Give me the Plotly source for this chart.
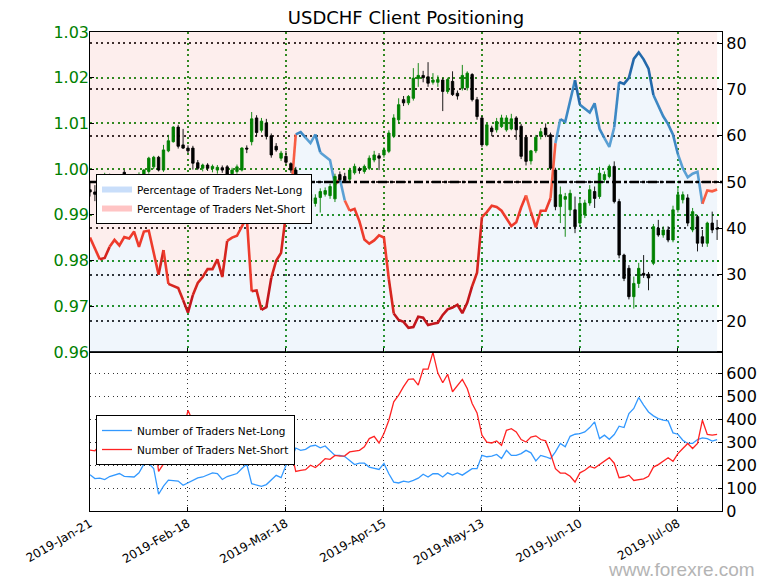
import plotly.graph_objects as go

# ---------------- data ----------------
tick_labels = ["2019-Jan-21", "2019-Feb-18", "2019-Mar-18", "2019-Apr-15",
               "2019-May-13", "2019-Jun-10", "2019-Jul-08"]
tick_index = [0, 20, 40, 60, 80, 100, 120]

opens = [0.9955, 0.9950, 0.9945, 0.9965, 0.9985, 0.9945, 0.9925, 0.9993, 0.9965, 0.9960,
         0.9975, 0.9980, 0.9995, 1.0005, 1.0026, 0.9998, 1.0040, 1.0060, 1.0092, 1.0053,
         1.0046, 1.0046, 1.0014, 1.0002, 1.0009, 1.0001, 0.9998, 1.0003, 1.0005, 0.9990,
         0.9995, 0.9998, 1.0046, 1.0060, 1.0112, 1.0085, 1.0101, 1.0073, 1.0050, 1.0024,
         1.0028, 1.0012, 0.9998, 0.9935, 0.9945, 0.9930, 0.9925, 0.9938, 0.9945, 0.9942,
         0.9935, 0.9988, 0.9984, 0.9978, 0.9992, 1.0001, 0.9995, 1.0002, 1.0020, 1.0029,
         1.0031, 1.0039, 1.0072, 1.0108, 1.0152, 1.0145, 1.0155, 1.0198, 1.0205, 1.0202,
         1.0190, 1.0190, 1.0195, 1.0170, 1.0192, 1.0166, 1.0177, 1.0178, 1.0207, 1.0152,
         1.0112, 1.0053, 1.0090, 1.0086, 1.0093, 1.0086, 1.0088, 1.0112, 1.0094, 1.0070,
         1.0018, 1.0040, 1.0072, 1.0090, 1.0075, 0.9998, 0.9918, 0.9934, 0.9911, 0.9911,
         0.9882, 0.9900, 0.9926, 0.9951, 0.9940, 0.9977, 0.9984, 1.0006, 0.9929, 0.9812,
         0.9783, 0.9721, 0.9750, 0.9772, 0.9770, 0.9794, 0.9871, 0.9856, 0.9867, 0.9845,
         0.9911, 0.9933, 0.9937, 0.9867, 0.9896, 0.9852, 0.9838, 0.9882, 0.9871]
highs = [0.9970, 0.9965, 0.9975, 0.9992, 0.9990, 0.9950, 0.9962, 0.9998, 0.9975, 0.9985,
         0.9993, 1.0000, 1.0027, 1.0029, 1.0029, 1.0053, 1.0075, 1.0094, 1.0097, 1.0088,
         1.0052, 1.0051, 1.0020, 1.0012, 1.0013, 1.0010, 1.0009, 1.0008, 1.0009, 1.0003,
         1.0010, 1.0048, 1.0052, 1.0125, 1.0118, 1.0112, 1.0110, 1.0078, 1.0057, 1.0040,
         1.0040, 1.0015, 1.0005, 0.9955, 0.9960, 0.9955, 0.9945, 0.9958, 0.9960, 0.9968,
         0.9990, 0.9995, 0.9992, 1.0003, 1.0012, 1.0005, 1.0010, 1.0030, 1.0040, 1.0035,
         1.0048, 1.0085, 1.0120, 1.0155, 1.0160, 1.0162, 1.0221, 1.0232, 1.0215, 1.0234,
         1.0210, 1.0205, 1.0199, 1.0200, 1.0214, 1.0172, 1.0228, 1.0214, 1.0210, 1.0158,
         1.0116, 1.0100, 1.0095, 1.0112, 1.0119, 1.0118, 1.0121, 1.0116, 1.0099, 1.0075,
         1.0042, 1.0075, 1.0090, 1.0100, 1.0080, 1.0003, 0.9962, 0.9948, 0.9955, 0.9940,
         0.9935, 0.9933, 0.9965, 0.9962, 1.0005, 0.9995, 1.0010, 1.0017, 0.9935, 0.9815,
         0.9790, 0.9765, 0.9795, 0.9812, 0.9775, 0.9880, 0.9889, 0.9875, 0.9875, 0.9920,
         0.9960, 0.9951, 0.9945, 0.9915, 0.9900, 0.9867, 0.9885, 0.9907, 0.9889]
lows = [0.9940, 0.9930, 0.9935, 0.9955, 0.9930, 0.9915, 0.9905, 0.9955, 0.9945, 0.9950,
        0.9960, 0.9975, 0.9990, 1.0000, 0.9995, 0.9994, 1.0037, 1.0058, 1.0045, 1.0044,
        1.0035, 0.9999, 0.9998, 0.9995, 0.9996, 0.9993, 0.9990, 0.9992, 0.9985, 0.9982,
        0.9990, 0.9995, 1.0035, 1.0052, 1.0072, 1.0080, 1.0065, 1.0025, 1.0038, 1.0018,
        1.0010, 0.9992, 0.9920, 0.9925, 0.9920, 0.9915, 0.9918, 0.9905, 0.9940, 0.9935,
        0.9928, 0.9972, 0.9970, 0.9972, 0.9988, 0.9990, 0.9990, 0.9998, 1.0015, 0.9998,
        1.0025, 1.0035, 1.0068, 1.0100, 1.0138, 1.0140, 1.0150, 1.0180, 1.0190, 1.0180,
        1.0185, 1.0180, 1.0127, 1.0165, 1.0160, 1.0152, 1.0172, 1.0172, 1.0148, 1.0108,
        1.0048, 1.0050, 1.0072, 1.0080, 1.0090, 1.0082, 1.0085, 1.0064, 1.0022, 1.0008,
        1.0010, 1.0035, 1.0065, 1.0070, 0.9998, 0.9910, 0.9882, 0.9852, 0.9900, 0.9860,
        0.9875, 0.9893, 0.9920, 0.9915, 0.9935, 0.9970, 0.9980, 0.9925, 0.9805, 0.9755,
        0.9715, 0.9695, 0.9740, 0.9762, 0.9735, 0.9790, 0.9852, 0.9850, 0.9840, 0.9840,
        0.9905, 0.9925, 0.9875, 0.9862, 0.9820, 0.9830, 0.9830, 0.9860, 0.9845]
closes = [0.9950, 0.9945, 0.9965, 0.9985, 0.9945, 0.9925, 0.9960, 0.9965, 0.9960, 0.9975,
          0.9985, 0.9998, 1.0024, 1.0026, 0.9998, 1.0042, 1.0062, 1.0092, 1.0050, 1.0046,
          1.0040, 1.0013, 1.0002, 1.0009, 1.0002, 1.0006, 1.0004, 0.9998, 0.9989, 0.9998,
          1.0005, 1.0046, 1.0044, 1.0110, 1.0080, 1.0105, 1.0072, 1.0031, 1.0042, 1.0035,
          1.0015, 0.9998, 0.9935, 0.9945, 0.9930, 0.9945, 0.9937, 0.9951, 0.9953, 0.9962,
          0.9984, 0.9977, 0.9975, 0.9998, 1.0006, 0.9997, 1.0006, 1.0024, 1.0031, 1.0024,
          1.0042, 1.0079, 1.0112, 1.0141, 1.0145, 1.0159, 1.0199, 1.0205, 1.0200, 1.0188,
          1.0195, 1.0196, 1.0170, 1.0196, 1.0163, 1.0160, 1.0205, 1.0210, 1.0152, 1.0115,
          1.0053, 1.0097, 1.0082, 1.0104, 1.0112, 1.0112, 1.0110, 1.0086, 1.0028, 1.0017,
          1.0040, 1.0070, 1.0082, 1.0075, 1.0002, 0.9918, 0.9944, 0.9940, 0.9947, 0.9874,
          0.9925, 0.9926, 0.9955, 0.9936, 0.9991, 0.9988, 1.0006, 0.9929, 0.9812, 0.9761,
          0.9721, 0.9750, 0.9783, 0.9768, 0.9762, 0.9874, 0.9856, 0.9867, 0.9845, 0.9911,
          0.9944, 0.9944, 0.9882, 0.9907, 0.9838, 0.9838, 0.9882, 0.9867, 0.9869]

pct_long = [38.0, 35.5, 33.3, 33.6, 36.0, 37.5, 36.3, 38.1, 37.8, 39.3,
            36.0, 39.3, 39.5, 35.0, 30.0, 35.3, 28.0, 27.5, 27.1, 24.5,
            21.8, 25.6, 28.2, 29.5, 31.2, 31.2, 33.3, 29.5, 37.3, 38.0,
            38.4, 40.5, 42.4, 26.4, 26.6, 22.4, 23.0, 29.3, 33.0, 34.7,
            43.1, 47.0, 60.3, 60.8, 59.6, 58.4, 60.3, 56.4, 55.5, 54.7,
            49.4, 50.7, 46.0, 43.8, 44.2, 41.5, 37.6, 36.7, 37.4, 38.5,
            38.0, 29.0, 21.6, 20.2, 19.8, 18.5, 18.7, 20.9, 20.7, 19.1,
            19.4, 19.6, 21.3, 22.5, 22.9, 23.5, 21.7, 23.9, 27.5, 30.4,
            42.4, 43.5, 44.9, 44.6, 43.8, 42.0, 40.5, 41.3, 44.5, 47.1,
            43.5, 40.2, 43.8, 43.8, 46.5, 58.4, 63.6, 63.0, 67.5, 72.0,
            66.7, 65.8, 65.0, 67.0, 61.5, 59.5, 57.6, 61.8, 71.6, 71.2,
            72.5, 76.6, 78.0, 76.5, 74.5, 68.8, 66.5, 64.2, 62.5, 60.2,
            56.0, 53.0, 51.0, 51.8, 52.2, 45.3, 48.2, 48.0, 48.4]

n_long = [158, 141, 143, 137, 150, 158, 163, 151, 151, 148,
          166, 204, 207, 185, 73, 108, 134, 132, 130, 112,
          122, 134, 144, 148, 156, 166, 163, 137, 150, 156,
          163, 185, 204, 119, 112, 107, 115, 135, 155, 145,
          199, 220, 274, 264, 268, 282, 286, 275, 283, 262,
          242, 242, 237, 220, 202, 208, 208, 191, 187, 181,
          207, 162, 126, 122, 130, 126, 133, 143, 160, 148,
          162, 162, 148, 166, 156, 166, 156, 171, 184, 184,
          242, 236, 239, 246, 228, 264, 242, 242, 250, 264,
          253, 218, 242, 236, 228, 257, 294, 279, 325, 334,
          337, 344, 363, 388, 315, 330, 312, 333, 369, 363,
          424, 446, 494, 461, 431, 414, 402, 395, 392, 340,
          334, 308, 294, 294, 311, 318, 315, 304, 311]

n_short = [265, 262, 285, 262, 278, 265, 285, 250, 248, 232,
           290, 315, 317, 344, 172, 205, 345, 343, 350, 345,
           438, 389, 367, 354, 344, 366, 326, 327, 256, 264,
           268, 272, 277, 332, 305, 371, 385, 330, 300, 320,
           282, 264, 172, 177, 180, 199, 189, 207, 228, 225,
           242, 239, 240, 257, 262, 264, 279, 315, 325, 296,
           337, 395, 475, 504, 541, 573, 575, 548, 617, 617,
           690, 600, 558, 595, 519, 548, 573, 533, 468, 427,
           330, 300, 296, 305, 286, 351, 358, 344, 311, 300,
           322, 327, 311, 305, 250, 184, 165, 165, 151, 126,
           166, 177, 194, 187, 202, 220, 232, 208, 145, 148,
           156, 133, 136, 140, 151, 191, 202, 218, 232, 216,
           250, 272, 294, 272, 294, 395, 333, 330, 333]

idx = list(range(len(closes)))
FONT = "DejaVu Sans"
GREEN = "#008000"
DOTS = "2px,3.5px"
FINE_DOTS = "1px,3.5px"

fig = go.Figure()

# background fills (net-long below line, net-short above line)
fig.add_trace(go.Scatter(x=idx, y=pct_long, mode="none", fill="tozeroy",
                         fillcolor="rgba(180,210,238,0.20)", showlegend=False,
                         hoverinfo="skip", xaxis="x2", yaxis="y"))
fig.add_trace(go.Scatter(x=idx, y=[100] * len(idx), mode="none", fill="tonexty",
                         fillcolor="rgba(246,170,165,0.20)", showlegend=False,
                         hoverinfo="skip", xaxis="x2", yaxis="y"))


def seg_color(v):
    if v < 25:
        return "#c3161c"
    if v < 35:
        return "#d6251f"
    if v < 45:
        return "#ee3b2c"
    if v < 50:
        return "#f85d44"
    if v < 60:
        return "#5aa0d4"
    if v < 70:
        return "#3d88c4"
    return "#2369ab"


# percentage line, coloured segment by segment
start = 0
cur = seg_color(pct_long[0])
for k in range(1, len(idx)):
    c = seg_color(pct_long[k]) if k < len(idx) - 1 else None
    if c != cur:
        fig.add_trace(go.Scatter(x=idx[start:k + 1], y=pct_long[start:k + 1],
                                 mode="lines", line=dict(color=cur, width=2.6),
                                 showlegend=False, hoverinfo="skip",
                                 xaxis="x2", yaxis="y"))
        start = k
        cur = c

# candlesticks on the price axis
fig.add_trace(go.Candlestick(
    x=idx, open=opens, high=highs, low=lows, close=closes,
    increasing=dict(line=dict(color=GREEN, width=0.9), fillcolor=GREEN),
    decreasing=dict(line=dict(color="black", width=0.9), fillcolor="black"),
    whiskerwidth=0, showlegend=False, xaxis="x2", yaxis="y2"))

# legend patches for the top panel
fig.add_trace(go.Scatter(x=[None], y=[None], mode="none", fill="toself",
                         fillcolor="#c9defa", name="Percentage of Traders Net-Long",
                         legend="legend", legendrank=1, xaxis="x2", yaxis="y"))
fig.add_trace(go.Scatter(x=[None], y=[None], mode="none", fill="toself",
                         fillcolor="#ffc4c4", name="Percentage of Traders Net-Short",
                         legend="legend", legendrank=2, xaxis="x2", yaxis="y"))

# bottom panel: trader counts
fig.add_trace(go.Scatter(x=idx, y=n_long, mode="lines",
                         line=dict(color="#3399ff", width=1.3),
                         name="Number of Traders Net-Long", legend="legend2",
                         legendrank=1, xaxis="x", yaxis="y3"))
fig.add_trace(go.Scatter(x=idx, y=n_short, mode="lines",
                         line=dict(color="#ff2222", width=1.3),
                         name="Number of Traders Net-Short", legend="legend2",
                         legendrank=2, xaxis="x", yaxis="y3"))

split = 0.332
axis_common = dict(showline=True, mirror=True, linecolor="black", linewidth=1.2,
                   zeroline=False, ticks="inside", ticklen=4, tickcolor="black",
                   automargin=False)

# the page body adds an 8 px offset, so the figure is 8 px smaller than the window
fig.update_layout(
    width=759, height=577,
    margin=dict(l=82, r=45, t=24, b=74, autoexpand=False),
    paper_bgcolor="white", plot_bgcolor="white",
    font=dict(family=FONT, color="black"),
    title=dict(text="USDCHF Client Positioning", x=0.5, xref="paper",
               y=0.983, yref="container", yanchor="middle",
               font=dict(size=18, family=FONT, color="black"),
               automargin=False),
    xaxis=dict(domain=[0, 1], anchor="y3", range=[0, 129],
               tickmode="array", tickvals=tick_index, ticktext=tick_labels,
               tickangle=-30, tickfont=dict(size=12),
               showgrid=True, gridcolor="#333333", griddash=FINE_DOTS, gridwidth=1.2,
               rangeslider=dict(visible=False), **axis_common),
    xaxis2=dict(domain=[0, 1], anchor="y", matches="x", range=[0, 129],
                tickmode="array", tickvals=tick_index, showticklabels=False,
                showgrid=True, gridcolor=GREEN, griddash=DOTS, gridwidth=1.5,
                rangeslider=dict(visible=False), **axis_common),
    yaxis=dict(domain=[split, 1], anchor="x2", side="right", range=[13.3, 82.4],
               tickmode="array", tickvals=[20, 30, 40, 50, 60, 70, 80],
               tickfont=dict(size=16), showgrid=True, gridcolor="#111111",
               griddash=DOTS, gridwidth=1.5, **axis_common),
    yaxis2=dict(overlaying="y", anchor="x2", side="left", range=[0.96, 1.03],
                tickmode="array",
                tickvals=[0.96, 0.97, 0.98, 0.99, 1.00, 1.01, 1.02, 1.03],
                ticktext=["0.96", "0.97", "0.98", "0.99", "1.00", "1.01", "1.02", "1.03"],
                tickfont=dict(size=16, color=GREEN), showgrid=True,
                gridcolor=GREEN, griddash=DOTS, gridwidth=1.5,
                showline=False, zeroline=False, ticks="inside", ticklen=4,
                tickcolor="black", automargin=False),
    yaxis3=dict(domain=[0, split], anchor="x", side="right", range=[0, 692],
                tickmode="array", tickvals=[0, 100, 200, 300, 400, 500, 600],
                tickfont=dict(size=16), showgrid=True, gridcolor="#333333",
                griddash=FINE_DOTS, gridwidth=1.2, **axis_common),
    legend=dict(x=0.0095, y=0.7035, xanchor="left", yanchor="top",
                bgcolor="white", bordercolor="black", borderwidth=1,
                font=dict(size=10.5, family=FONT), tracegroupgap=0,
                traceorder="normal"),
    legend2=dict(x=0.0095, y=0.2004, xanchor="left", yanchor="top",
                 bgcolor="white", bordercolor="black", borderwidth=1,
                 font=dict(size=10.5, family=FONT), tracegroupgap=0,
                 traceorder="normal"),
    annotations=[dict(text="www.forexre.com", xref="paper", yref="paper",
                      x=1.055, y=-0.123, xanchor="right", yanchor="middle",
                      showarrow=False,
                      font=dict(size=19, color="#b4b4b4",
                                family="Liberation Sans"))],
    shapes=[dict(type="line", xref="paper", yref="y", x0=0, x1=1, y0=50, y1=50,
                 line=dict(color="black", width=2.5, dash="dashdot"),
                 layer="above")],
)

fig.write_html("out.html")
